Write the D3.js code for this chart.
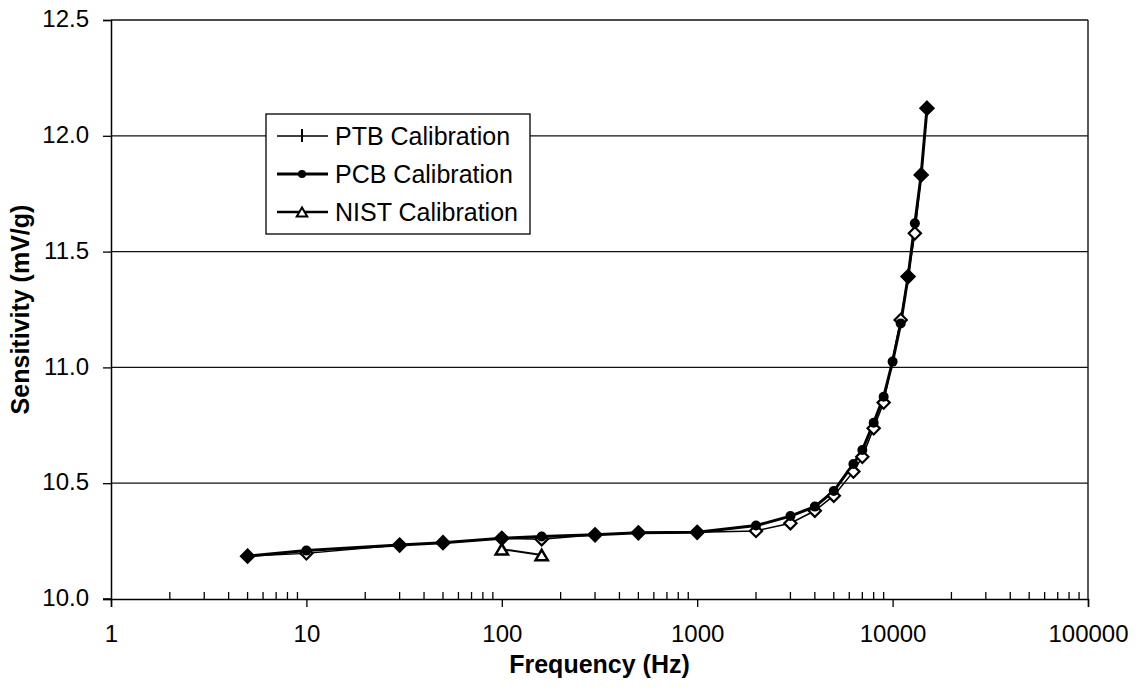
<!DOCTYPE html>
<html>
<head>
<meta charset="utf-8">
<script src="https://cdn.jsdelivr.net/npm/d3@7"></script>
<style>
  html, body { margin: 0; padding: 0; background: #fff; }
  svg { display: block; font-family: Arial, "Liberation Sans", sans-serif; }
</style>
</head>
<body>
<svg id="chart" width="1139" height="693"></svg>
<script>
// ---------------- data ----------------
// frequencies (Hz) where PTB and PCB coincide (drawn as filled diamonds)
const sharedFreq = [5, 30, 50, 100, 300, 500, 1000, 12000, 14000, 15000];
const sharedVal  = [10.185, 10.233, 10.243, 10.262, 10.277, 10.286, 10.288, 11.392, 11.831, 12.119];
// PTB calibration (open diamonds) at other frequencies
const ptbFreq = [10, 160, 2000, 3000, 4000, 5000, 6300, 7000, 8000, 9000, 11000, 13000];
const ptbVal  = [10.197, 10.258, 10.294, 10.327, 10.381, 10.446, 10.550, 10.614, 10.737, 10.848, 11.205, 11.579];
// PCB calibration (filled circles) at other frequencies
const pcbFreq = [10, 160, 2000, 3000, 4000, 5000, 6300, 7000, 8000, 9000, 10000, 11000, 13000];
const pcbVal  = [10.209, 10.270, 10.317, 10.358, 10.399, 10.466, 10.583, 10.643, 10.761, 10.873, 11.025, 11.190, 11.622];
// NIST calibration
const nistFreq = [100, 160];
const nistVal  = [10.215, 10.190];

const xTickValues = [1, 10, 100, 1000, 10000, 100000];
const yTickValues = [10.0, 10.5, 11.0, 11.5, 12.0, 12.5];
const seriesNames = ["PTB Calibration", "PCB Calibration", "NIST Calibration"];
const xTitle = "Frequency (Hz)";
const yTitle = "Sensitivity (mV/g)";

// ---------------- layout ----------------
const svg = d3.select("#chart");
const pL = 111, pR = 1088, pT = 20, pB = 599;
const x = d3.scaleLog().domain([1, 100000]).range([pL, pR]);
const y = d3.scaleLinear().domain([10, 12.5]).range([pB, pT]);
const FONT = "Arial, 'Liberation Sans', sans-serif";
const TICK_FS = 24;

// gridlines
svg.append("g").selectAll("line")
  .data(yTickValues.filter(v => v > 10))
  .join("line")
  .attr("x1", pL).attr("x2", pR)
  .attr("y1", d => y(d)).attr("y2", d => y(d))
  .attr("stroke", "#111").attr("stroke-width", 1.3);

// right border
svg.append("line").attr("x1", pR).attr("x2", pR).attr("y1", pT).attr("y2", pB)
  .attr("stroke", "#222").attr("stroke-width", 1.5);

// y axis
const yAxis = d3.axisLeft(y).tickValues(yTickValues).tickFormat(d3.format(".1f")).tickSize(8).tickPadding(14);
const gy = svg.append("g").attr("transform", `translate(${pL},0)`).call(yAxis);
gy.select(".domain").attr("stroke", "#000").attr("stroke-width", 1.5);
gy.selectAll(".tick line").attr("stroke", "#000").attr("stroke-width", 1.3);
gy.selectAll(".tick text").attr("font-size", TICK_FS).attr("fill", "#000").attr("dy", "0.28em").style("font-family", FONT);

// x axis: major ticks outward, minor ticks inward
const xAxis = d3.axisBottom(x).tickValues(xTickValues).tickFormat(d3.format("d")).tickSize(8).tickPadding(18);
const gx = svg.append("g").attr("transform", `translate(0,${pB})`).call(xAxis);
gx.select(".domain").attr("stroke", "#000").attr("stroke-width", 1.5);
gx.selectAll(".tick line").attr("stroke", "#000").attr("stroke-width", 1.3);
gx.selectAll(".tick text").attr("font-size", TICK_FS).attr("fill", "#000").style("font-family", FONT);
const minor = [];
for (let dec = 1; dec < 100000; dec *= 10) for (let m = 2; m <= 9; m++) minor.push(dec * m);
gx.append("g").selectAll("line").data(minor).join("line")
  .attr("x1", d => x(d)).attr("x2", d => x(d)).attr("y1", 0).attr("y2", -7)
  .attr("stroke", "#000").attr("stroke-width", 1.3);
svg.append("line").attr("x1", pL - 8).attr("x2", pL).attr("y1", pB).attr("y2", pB)
  .attr("stroke", "#000").attr("stroke-width", 1.5);

// axis titles
svg.append("text").attr("x", (pL + pR) / 2).attr("y", 673).attr("text-anchor", "middle")
  .attr("font-size", 25).attr("font-weight", "bold").text(xTitle);
svg.append("text").attr("transform", `translate(29,${(pT + pB) / 2}) rotate(-90)`)
  .attr("text-anchor", "middle").attr("font-size", 25).attr("font-weight", "bold").text(yTitle);

// ---------------- series ----------------
const zip = (fs, vs) => fs.map((f, i) => ({ f, v: vs[i] }));
const shared = zip(sharedFreq, sharedVal);
const ptb = zip(ptbFreq, ptbVal);
const pcb = zip(pcbFreq, pcbVal);
const nist = zip(nistFreq, nistVal);
const ptbAll = shared.concat(ptb).sort((a, b) => a.f - b.f);
const pcbAll = shared.concat(pcb).sort((a, b) => a.f - b.f);

const line = d3.line().x(d => x(d.f)).y(d => y(d.v));

const diamond = { draw(ctx, size) { const r = Math.sqrt(size) / 2; ctx.moveTo(0, -r); ctx.lineTo(r, 0); ctx.lineTo(0, r); ctx.lineTo(-r, 0); ctx.closePath(); } };
const triangle = { draw(ctx, size) { const w = Math.sqrt(size); const h = w * 0.85; ctx.moveTo(0, -h / 2); ctx.lineTo(w / 2, h / 2); ctx.lineTo(-w / 2, h / 2); ctx.closePath(); } };

svg.append("path").datum(ptbAll).attr("d", line).attr("fill", "none").attr("stroke", "#000").attr("stroke-width", 1.5);
svg.append("path").datum(pcbAll).attr("d", line).attr("fill", "none").attr("stroke", "#000").attr("stroke-width", 3);

svg.append("g").selectAll("path").data(ptb).join("path")
  .attr("transform", d => `translate(${x(d.f)},${y(d.v)})`)
  .attr("d", d3.symbol().type(diamond).size(150))
  .attr("fill", "#fff").attr("stroke", "#000").attr("stroke-width", 2.2);

svg.append("g").selectAll("circle").data(pcb).join("circle")
  .attr("cx", d => x(d.f)).attr("cy", d => y(d.v)).attr("r", 5)
  .attr("fill", "#000");

svg.append("g").selectAll("path").data(shared).join("path")
  .attr("transform", d => `translate(${x(d.f)},${y(d.v)})`)
  .attr("d", d3.symbol().type(diamond).size(200))
  .attr("fill", "#000").attr("stroke", "#000").attr("stroke-width", 1.5);

svg.append("path").datum(nist).attr("d", line).attr("fill", "none").attr("stroke", "#000").attr("stroke-width", 2);
svg.append("g").selectAll("path").data(nist).join("path")
  .attr("transform", d => `translate(${x(d.f)},${y(d.v)})`)
  .attr("d", d3.symbol().type(triangle).size(150))
  .attr("fill", "#fff").attr("stroke", "#000").attr("stroke-width", 2.5);

// ---------------- legend ----------------
const lg = svg.append("g").attr("transform", "translate(266,114)");
lg.append("rect").attr("x", 0).attr("y", 0).attr("width", 264).attr("height", 120)
  .attr("fill", "#fff").attr("stroke", "#000").attr("stroke-width", 1.3);
const rows = lg.selectAll("g.row").data(seriesNames).join("g").attr("class", "row")
  .attr("transform", (d, i) => `translate(0,${22 + i * 38})`);
rows.append("line").attr("x1", 11).attr("x2", 62).attr("y1", 0).attr("y2", 0)
  .attr("stroke", "#000").attr("stroke-width", (d, i) => [1.3, 3, 2.5][i]);
rows.append("text").attr("x", 69).attr("y", 9).attr("font-size", 25).text(d => d);
lg.append("line").attr("x1", 36).attr("x2", 36).attr("y1", 22 - 7).attr("y2", 22 + 6).attr("stroke", "#000").attr("stroke-width", 2);
lg.append("circle").attr("cx", 36).attr("cy", 60).attr("r", 4).attr("fill", "#000");
lg.append("path").attr("transform", "translate(36,98)").attr("d", d3.symbol().type(triangle).size(110))
  .attr("fill", "#fff").attr("stroke", "#000").attr("stroke-width", 2);
</script>
</body>
</html>
